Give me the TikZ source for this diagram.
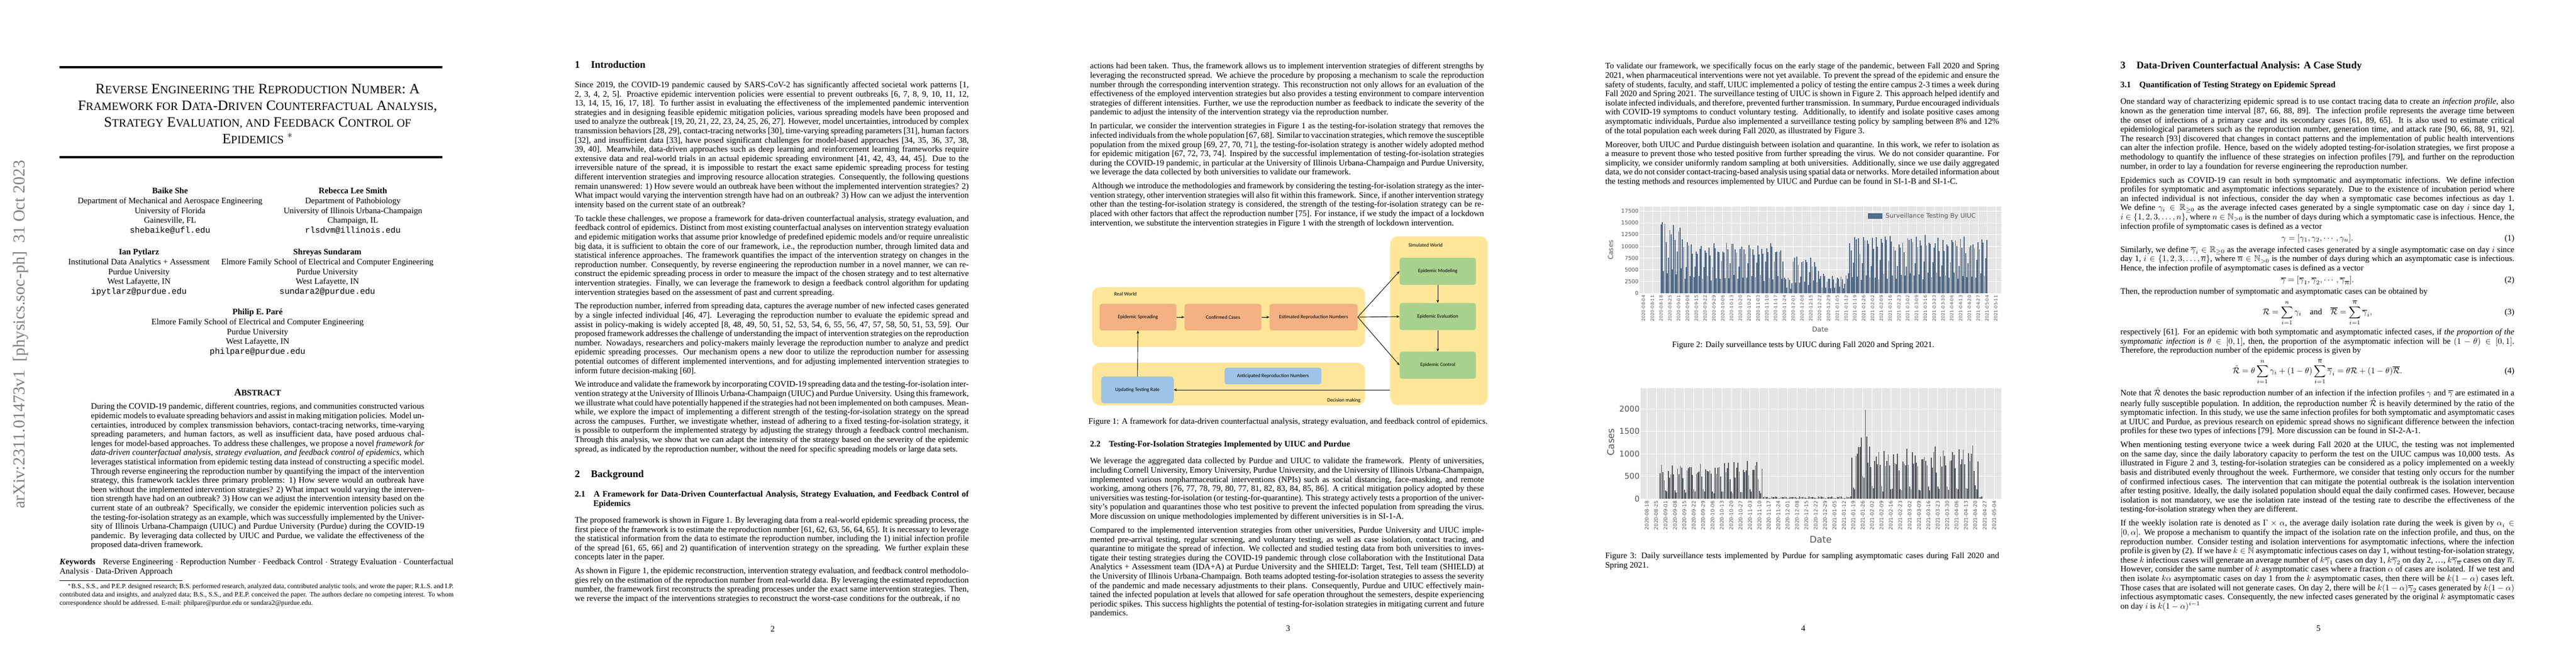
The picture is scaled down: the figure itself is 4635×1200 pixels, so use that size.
\documentclass[tikz,border=0pt]{standalone}
\usepackage{amsmath,amssymb}
\usepackage{fontspec}
\setmainfont{Liberation Serif}
\setmonofont{Liberation Mono}
\newfontfamily\plotfont{DejaVu Sans}
\newfontfamily\figfont{Carlito}
\usetikzlibrary{arrows.meta}
\newdimen\px \px=0.66pt
\newcommand{\sm}[1]{{\fontsize{13.5}{20}\selectfont\MakeUppercase{#1}}}
\newcommand{\smb}[1]{{\fontsize{10}{12}\selectfont\MakeUppercase{#1}}}
\newcommand{\pp}{\par\vspace{5.5pt}}
\newcommand{\secn}[2]{{\fontsize{12}{14}\selectfont\bfseries #1\hspace{1.1em}#2}\par\vspace{12pt}}
\newcommand{\subsecn}[2]{{\bfseries\hangindent=2.2em\hangafter=1 #1\hspace{1em}#2\par}\vspace{9pt}}
\definecolor{worldyellow}{HTML}{FFE699}
\definecolor{stageorange}{HTML}{F4B183}
\definecolor{simgreen}{HTML}{A9D18E}
\definecolor{decblue}{HTML}{9DC3E6}
\definecolor{uiucbar}{HTML}{4F6B8D}
\definecolor{purduebar}{HTML}{55595E}
\definecolor{plotbg}{HTML}{E5E5E5}
\definecolor{ticktext}{HTML}{555555}
\tikzset{
  /tikz/.cd,
  body/.style={anchor=north west,inner sep=0pt,text width=6.5in,align=justify,font=\fontsize{10}{11}\selectfont},
  pagenum/.style={font=\fontsize{10}{11}\selectfont},
  author/.style={anchor=north,align=center,inner sep=0pt,font=\fontsize{10}{11.7}\selectfont},
  world/.style={fill=worldyellow,rounded corners=9pt,inner sep=0pt},
  stage/.style={fill=stageorange,rounded corners=3pt,font=\figfont\fontsize{6}{7}\selectfont,minimum height=48\px,inner sep=1pt},
  simbox/.style={stage,fill=simgreen,minimum width=138\px,minimum height=49\px},
  decbox/.style={stage,fill=decblue},
  worldlabel/.style={font=\figfont\fontsize{6}{7}\selectfont},
  flow/.style={-{Stealth[length=3.5pt,width=3pt]},line width=0.6pt},
  ticklab/.style={font=\plotfont\fontsize{6.5}{7}\selectfont,text=ticktext,inner sep=1pt},
  datelab/.style={font=\plotfont\fontsize{5.3}{6}\selectfont,text=ticktext,rotate=90,anchor=east,inner sep=1pt},
  axlab/.style={font=\plotfont\fontsize{8}{9}\selectfont,text=ticktext}
}
\begin{document}
\begin{tikzpicture}[x=0.0091667in,y=-0.0091667in]
\useasboundingbox[fill=white] (0,0) rectangle (4635,1200);
%% page 1
\node[rotate=90,anchor=east,text=gray,font=\fontsize{20}{22}\selectfont] (stamp) at (37,283) {arXiv:2311.01473v1\ \ [physics.soc-ph]\ \ 31 Oct 2023};
\draw[line width=2.2pt] (107,121) -- (796,121);
\node[align=center,font=\fontsize{17}{19.8}\selectfont] (title) at (463.5,205) {R\sm{everse} E\sm{ngineering the} R\sm{eproduction} N\sm{umber}: A\\
F\sm{ramework for} D\sm{ata}-D\sm{riven} C\sm{ounterfactual} A\sm{nalysis},\\
S\sm{trategy} E\sm{valuation, and} F\sm{eedback} C\sm{ontrol of}\\
E\sm{pidemics} $^{*}$};
\draw[line width=2.2pt] (107,283) -- (796,283);
\node[author] (she) at (306,338) {\textbf{Baike She}\\Department of Mechanical and Aerospace Engineering\\University of Florida\\Gainesville, FL\\\texttt{shebaike@ufl.edu}};
\node[author] (smith) at (635,338) {\textbf{Rebecca Lee Smith}\\Department of Pathobiology\\University of Illinois Urbana-Champaign\\Champaign, IL\\\texttt{rlsdvm@illinois.edu}};
\node[author] (pytlarz) at (250,448) {\textbf{Ian Pytlarz}\\Institutional Data Analytics + Assessment\\Purdue University\\West Lafayette, IN\\\texttt{ipytlarz@purdue.edu}};
\node[author] (sundaram) at (589,448) {\textbf{Shreyas Sundaram}\\Elmore Family School of Electrical and Computer Engineering\\Purdue University\\West Lafayette, IN\\\texttt{sundara2@purdue.edu}};
\node[author] (pare) at (463.5,556) {\textbf{Philip E. Paré}\\Elmore Family School of Electrical and Computer Engineering\\Purdue University\\West Lafayette, IN\\\texttt{philpare@purdue.edu}};
\node[font=\fontsize{12}{14}\selectfont\bfseries] (abshead) at (463.5,707) {A\smb{bstract}};
\node[body,anchor=north,text width=5.5in] (abstract) at (463.5,726) {During the COVID-19 pandemic, different countries, regions, and communities constructed various epidemic models to evaluate spreading behaviors and assist in making mitigation policies. Model uncertainties, introduced by complex transmission behaviors, contact-tracing networks, time-varying spreading parameters, and human factors, as well as insufficient data, have posed arduous challenges for model-based approaches. To address these challenges, we propose a novel \textit{framework for data-driven counterfactual analysis, strategy evaluation, and feedback control of epidemics}, which leverages statistical information from epidemic testing data instead of constructing a specific model. Through reverse engineering the reproduction number by quantifying the impact of the intervention strategy, this framework tackles three primary problems: 1) How severe would an outbreak have been without the implemented intervention strategies? 2) What impact would varying the intervention strength have had on an outbreak? 3) How can we adjust the intervention intensity based on the current state of an outbreak? Specifically, we consider the epidemic intervention policies such as the testing-for-isolation strategy as an example, which was successfully implemented by the University of Illinois Urbana-Champaign (UIUC) and Purdue University (Purdue) during the COVID-19 pandemic. By leveraging data collected by UIUC and Purdue, we validate the effectiveness of the proposed data-driven framework.};
\node[body] (keywords) at (107,1006) {\textbf{\textit{K}eywords}\hspace{0.6em} Reverse Engineering $\cdot$ Reproduction Number $\cdot$ Feedback Control $\cdot$ Strategy Evaluation $\cdot$ Counterfactual Analysis $\cdot$ Data-Driven Approach};
\draw[line width=0.4pt] (107,1045) -- (328,1045);
\node[body,font=\fontsize{8}{9.9}\selectfont] (footnote) at (107,1051) {\hspace*{1.2em}$^{*}$B.S., S.S., and P.E.P. designed research; B.S. performed research, analyzed data, contributed analytic tools, and wrote the paper; R.L.S. and I.P. contributed data and insights, and analyzed data; B.S., S.S., and P.E.P. conceived the paper. The authors declare no competing interest. To whom correspondence should be addressed. E-mail: philpare@purdue.edu or sundara2@purdue.edu.};
%% page 2
\node[body] (p2text) at (1034,110) {\secn{1}{Introduction}
Since 2019, the COVID-19 pandemic caused by SARS-CoV-2 has significantly affected societal work patterns [1, 2, 3, 4, 2, 5]. Proactive epidemic intervention policies were essential to prevent outbreaks [6, 7, 8, 9, 10, 11, 12, 13, 14, 15, 16, 17, 18]. To further assist in evaluating the effectiveness of the implemented pandemic intervention strategies and in designing feasible epidemic mitigation policies, various spreading models have been proposed and used to analyze the outbreak [19, 20, 21, 22, 23, 24, 25, 26, 27]. However, model uncertainties, introduced by complex transmission behaviors [28, 29], contact-tracing networks [30], time-varying spreading parameters [31], human factors [32], and insufficient data [33], have posed significant challenges for model-based approaches [34, 35, 36, 37, 38, 39, 40]. Meanwhile, data-driven approaches such as deep learning and reinforcement learning frameworks require extensive data and real-world trials in an actual epidemic spreading environment [41, 42, 43, 44, 45]. Due to the irreversible nature of the spread, it is impossible to restart the exact same epidemic spreading process for testing different intervention strategies and improving resource allocation strategies. Consequently, the following questions remain unanswered: 1) How severe would an outbreak have been without the implemented intervention strategies? 2) What impact would varying the intervention strength have had on an outbreak? 3) How can we adjust the intervention intensity based on the current state of an outbreak?\pp
To tackle these challenges, we propose a framework for data-driven counterfactual analysis, strategy evaluation, and feedback control of epidemics. Distinct from most existing counterfactual analyses on intervention strategy evaluation and epidemic mitigation works that assume prior knowledge of predefined epidemic models and/or require unrealistic big data, it is sufficient to obtain the core of our framework, i.e., the reproduction number, through limited data and statistical inference approaches. The framework quantifies the impact of the intervention strategy on changes in the reproduction number. Consequently, by reverse engineering the reproduction number in a novel manner, we can reconstruct the epidemic spreading process in order to measure the impact of the chosen strategy and to test alternative intervention strategies. Finally, we can leverage the framework to design a feedback control algorithm for updating intervention strategies based on the assessment of past and current spreading.\pp
The reproduction number, inferred from spreading data, captures the average number of new infected cases generated by a single infected individual [46, 47]. Leveraging the reproduction number to evaluate the epidemic spread and assist in policy-making is widely accepted [8, 48, 49, 50, 51, 52, 53, 54, 6, 55, 56, 47, 57, 58, 50, 51, 53, 59]. Our proposed framework addresses the challenge of understanding the impact of intervention strategies on the reproduction number. Nowadays, researchers and policy-makers mainly leverage the reproduction number to analyze and predict epidemic spreading processes. Our mechanism opens a new door to utilize the reproduction number for assessing potential outcomes of different implemented interventions, and for adjusting implemented intervention strategies to inform future decision-making [60].\pp
We introduce and validate the framework by incorporating COVID-19 spreading data and the testing-for-isolation intervention strategy at the University of Illinois Urbana-Champaign (UIUC) and Purdue University. Using this framework, we illustrate what could have potentially happened if the strategies had not been implemented on both campuses. Meanwhile, we explore the impact of implementing a different strength of the testing-for-isolation strategy on the spread across the campuses. Further, we investigate whether, instead of adhering to a fixed testing-for-isolation strategy, it is possible to outperform the implemented strategy by adjusting the strategy through a feedback control mechanism. Through this analysis, we show that we can adapt the intensity of the strategy based on the severity of the epidemic spread, as indicated by the reproduction number, without the need for specific spreading models or large data sets.\par\vspace{20pt}
\secn{2}{Background}
\subsecn{2.1}{A Framework for Data-Driven Counterfactual Analysis, Strategy Evaluation, and Feedback Control of Epidemics}
The proposed framework is shown in Figure 1. By leveraging data from a real-world epidemic spreading process, the first piece of the framework is to estimate the reproduction number [61, 62, 63, 56, 64, 65]. It is necessary to leverage the statistical information from the data to estimate the reproduction number, including the 1) initial infection profile of the spread [61, 65, 66] and 2) quantification of intervention strategy on the spreading. We further explain these concepts later in the paper.\pp
As shown in Figure 1, the epidemic reconstruction, intervention strategy evaluation, and feedback control methodologies rely on the estimation of the reproduction number from real-world data. By leveraging the estimated reproduction number, the framework first reconstructs the spreading processes under the exact same intervention strategies. Then, we reverse the impact of the interventions strategies to reconstruct the worst-case conditions for the outbreak, if no};
\node[pagenum] (num2) at (1390.5,1132) {2};
%% page 3
\node[body] (p3text) at (1961,113) {actions had been taken. Thus, the framework allows us to implement intervention strategies of different strengths by leveraging the reconstructed spread. We achieve the procedure by proposing a mechanism to scale the reproduction number through the corresponding intervention strategy. This reconstruction not only allows for an evaluation of the effectiveness of the employed intervention strategies but also provides a testing environment to compare intervention strategies of different intensities. Further, we use the reproduction number as feedback to indicate the severity of the pandemic to adjust the intensity of the intervention strategy via the reproduction number.\pp
In particular, we consider the intervention strategies in Figure 1 as the testing-for-isolation strategy that removes the infected individuals from the whole population [67, 68]. Similar to vaccination strategies, which remove the susceptible population from the mixed group [69, 27, 70, 71], the testing-for-isolation strategy is another widely adopted method for epidemic mitigation [67, 72, 73, 74]. Inspired by the successful implementation of testing-for-isolation strategies during the COVID-19 pandemic, in particular at the University of Illinois Urbana-Champaign and Purdue University, we leverage the data collected by both universities to validate our framework.\pp
\ Although we introduce the methodologies and framework by considering the testing-for-isolation strategy as the intervention strategy, other intervention strategies will also fit within this framework. Since, if another intervention strategy other than the testing-for-isolation strategy is considered, the strength of the testing-for-isolation strategy can be replaced with other factors that affect the reproduction number [75]. For instance, if we study the impact of a lockdown intervention, we substitute the intervention strategies in Figure 1 with the strength of lockdown intervention.};
% figure 1
\node[world,minimum width=493\px,minimum height=108\px] (realworld) at (2210.5,571) {};
\node[world,minimum width=493\px,minimum height=77\px] (decision) at (2210.5,691.5) {};
\node[world,minimum width=176\px,minimum height=305\px] (simworld) at (2589,577.5) {};
\node[worldlabel] (rwlabel) at (2025,529) {Real World};
\node[worldlabel] (swlabel) at (2565,441) {Simulated World};
\node[worldlabel] (dmlabel) at (2418,721) {Decision making};
\node[stage,minimum width=139\px] (spreading) at (2047.5,571) {Epidemic Spreading};
\node[stage,minimum width=139\px] (confirmed) at (2200.5,571) {Confirmed Cases};
\node[stage,minimum width=159\px] (estimated) at (2363.5,571) {Estimated Reproduction Numbers};
\node[simbox] (modeling) at (2587,488.5) {Epidemic Modeling};
\node[simbox] (evaluation) at (2587,570) {Epidemic Evaluation};
\node[simbox] (control) at (2587,657.5) {Epidemic Control};
\node[decbox,minimum width=175\px,minimum height=30\px] (anticipated) at (2290.5,677) {Anticipated Reproduction Numbers};
\node[decbox,minimum width=131\px] (updating) at (2046.5,702) {Updating Testing Rate};
\draw[flow] (spreading) -- (confirmed);
\draw[flow] (confirmed) -- (estimated);
\draw[flow] (estimated.east) -- (modeling.west);
\draw[flow] (estimated.east) -- (evaluation.west);
\draw[flow] (estimated.east) -- (control.west);
\draw[flow] (modeling) -- (evaluation);
\draw[flow] (evaluation) -- (control);
\draw[flow] (simworld.west |- updating) -- (updating.east);
\draw[flow] (updating) -- (spreading);
\node[font=\fontsize{10}{11}\selectfont] (cap1) at (2317.5,760) {Figure 1: A framework for data-driven counterfactual analysis, strategy evaluation, and feedback control of epidemics.};
\node[body] (p3rest) at (1961,794) {\subsecn{2.2}{Testing-For-Isolation Strategies Implemented by UIUC and Purdue}
We leverage the aggregated data collected by Purdue and UIUC to validate the framework. Plenty of universities, including Cornell University, Emory University, Purdue University, and the University of Illinois Urbana-Champaign, implemented various nonpharmaceutical interventions (NPIs) such as social distancing, face-masking, and remote working, among others [76, 77, 78, 79, 80, 77, 81, 82, 83, 84, 85, 86]. A critical mitigation policy adopted by these universities was testing-for-isolation (or testing-for-quarantine). This strategy actively tests a proportion of the university's population and quarantines those who test positive to prevent the infected population from spreading the virus. More discussion on unique methodologies implemented by different universities is in SI-1-A.\pp
Compared to the implemented intervention strategies from other universities, Purdue University and UIUC implemented pre-arrival testing, regular screening, and voluntary testing, as well as case isolation, contact tracing, and quarantine to mitigate the spread of infection. We collected and studied testing data from both universities to investigate their testing strategies during the COVID-19 pandemic through close collaboration with the Institutional Data Analytics + Assessment team (IDA+A) at Purdue University and the SHIELD: Target, Test, Tell team (SHIELD) at the University of Illinois Urbana-Champaign. Both teams adopted testing-for-isolation strategies to assess the severity of the pandemic and made necessary adjustments to their plans. Consequently, Purdue and UIUC effectively maintained the infected population at levels that allowed for safe operation throughout the semesters, despite experiencing periodic spikes. This success highlights the potential of testing-for-isolation strategies in mitigating current and future pandemics.};
\node[pagenum] (num3) at (2317.5,1132) {3};
%% page 4
\node[body] (p4text) at (2888,113) {To validate our framework, we specifically focus on the early stage of the pandemic, between Fall 2020 and Spring 2021, when pharmaceutical interventions were not yet available. To prevent the spread of the epidemic and ensure the safety of students, faculty, and staff, UIUC implemented a policy of testing the entire campus 2-3 times a week during Fall 2020 and Spring 2021. The surveillance testing of UIUC is shown in Figure 2. This approach helped identify and isolate infected individuals, and therefore, prevented further transmission. In summary, Purdue encouraged individuals with COVID-19 symptoms to conduct voluntary testing. Additionally, to identify and isolate positive cases among asymptomatic individuals, Purdue also implemented a surveillance testing policy by sampling between 8\% and 12\% of the total population each week during Fall 2020, as illustrated by Figure 3.\pp
Moreover, both UIUC and Purdue distinguish between isolation and quarantine. In this work, we refer to isolation as a measure to prevent those who tested positive from further spreading the virus. We do not consider quarantine. For simplicity, we consider uniformly random sampling at both universities. Additionally, since we use daily aggregated data, we do not consider contact-tracing-based analysis using spatial data or networks. More detailed information about the testing methods and resources implemented by UIUC and Purdue can be found in SI-1-B and SI-1-C.};
% figure 2: UIUC
\fill[plotbg] (2950,372) rectangle (3601,528);
\foreach \k/\v in {0/0,1/2500,2/5000,3/7500,4/10000,5/12500,6/15000,7/17500}{
  \draw[white,line width=0.5pt] (2950,528-21.14*\k) -- (3601,528-21.14*\k);
  \node[ticklab,anchor=east] at (2950,528-21.14*\k) {\v};
}
\foreach \lab [count=\i from 0] in {2020-08-04,2020-08-11,2020-08-18,2020-08-25,2020-09-01,2020-09-08,2020-09-15,2020-09-22,2020-09-29,2020-10-06,2020-10-13,2020-10-20,2020-10-27,2020-11-03,2020-11-10,2020-11-17,2020-11-24,2020-12-01,2020-12-08,2020-12-15,2020-12-22,2020-12-29,2021-01-05,2021-01-12,2021-01-19,2021-01-26,2021-02-02,2021-02-09,2021-02-16,2021-02-23,2021-03-02,2021-03-09,2021-03-16,2021-03-23,2021-03-30,2021-04-06,2021-04-13,2021-04-20,2021-04-27,2021-05-04,2021-05-11}{
  \draw[white,line width=0.5pt] (2957+15.85*\i,372) -- (2957+15.85*\i,528);
  \node[datelab] at (2957+15.85*\i,530) {\lab};
}
\pgfmathsetseed{11}
\foreach \d in {14,...,273}{
  \pgfmathsetmacro\env{\d<31 ? 14 : (\d<112 ? 10.2 : (\d<119 ? 3.5 : (\d<140 ? 7 : (\d<163 ? 3.6 : 11))))}
  \pgfmathsetmacro\wk{{1,0.95,0.35,1,0.9,0.3,0.6}[mod(\d,7)]}
  \pgfmathsetmacro\h{\env*\wk*(0.85+0.3*rnd)}
  \fill[uiucbar] (2956.1+2.264*\d,528) rectangle ++(1.8,-8.457*\h);
}
\fill[uiucbar] (3361,384) rectangle (3387,394);
\node[ticklab,anchor=west,font=\plotfont\fontsize{7.5}{8}\selectfont] (legend1) at (3391,389) {Surveillance Testing By UIUC};
\node[axlab,rotate=90] (cases1) at (2898,450) {Cases};
\node[axlab] (date1) at (3275,593) {Date};
\node[font=\fontsize{10}{11}\selectfont] (cap2) at (3244.5,622) {Figure 2: Daily surveillance tests by UIUC during Fall 2020 and Spring 2021.};
% figure 3: Purdue
\fill[plotbg] (2952,699) rectangle (3601,898);
\foreach \v in {0,500,...,2000}{
  \draw[white,line width=0.5pt] (2952,898-0.081*\v) -- (3601,898-0.081*\v);
  \node[ticklab,anchor=east,font=\plotfont\fontsize{9.5}{10}\selectfont] at (2952,898-0.081*\v) {\v};
}
\foreach \lab [count=\i from 0] in {2020-08-18,2020-08-25,2020-09-01,2020-09-08,2020-09-15,2020-09-22,2020-09-29,2020-10-06,2020-10-13,2020-10-20,2020-10-27,2020-11-03,2020-11-10,2020-11-17,2020-11-24,2020-12-01,2020-12-08,2020-12-15,2020-12-22,2020-12-29,2021-01-05,2021-01-12,2021-01-19,2021-01-26,2021-02-02,2021-02-09,2021-02-16,2021-02-23,2021-03-02,2021-03-09,2021-03-16,2021-03-23,2021-03-30,2021-04-06,2021-04-13,2021-04-20,2021-04-27,2021-05-04}{
  \draw[white,line width=0.5pt] (2963+16.89*\i,699) -- (2963+16.89*\i,898);
  \node[datelab,font=\plotfont\fontsize{6}{7}\selectfont] at (2963+16.89*\i,900) {\lab};
}
\pgfmathsetseed{5}
\foreach \d in {10,...,250}{
  \pgfmathsetmacro\env{\d<87 ? 720 : (\d<153 ? 45 : (\d<160 ? 1200 : (\d<165 ? 2000 : (\d<248 ? 1000 : 40))))}
  \pgfmathsetmacro\wk{{0.25,0.2,0.95,0.8,0.9,1,0.7}[mod(\d,7)]}
  \pgfmathsetmacro\h{\env*\wk*(0.8+0.4*rnd)}
  \fill[purduebar] (2962.2+2.413*\d,898) rectangle ++(1.7,-0.081*\h);
}
\node[axlab,rotate=90,font=\plotfont\fontsize{11}{12}\selectfont] (cases2) at (2898,796) {Cases};
\node[axlab,font=\plotfont\fontsize{11}{12}\selectfont] (date2) at (3276,972) {Date};
\node[body] (cap3) at (2888,995) {Figure 3: Daily surveillance tests implemented by Purdue for sampling asymptomatic cases during Fall 2020 and Spring 2021.};
\node[pagenum] (num4) at (3244.5,1132) {4};
%% page 5
\node[body] (p5text) at (3815,110) {\abovedisplayskip=3pt\belowdisplayskip=3pt\abovedisplayshortskip=2pt\belowdisplayshortskip=2pt
\secn{3}{Data-Driven Counterfactual Analysis: A Case Study}
\subsecn{3.1}{Quantification of Testing Strategy on Epidemic Spread}
One standard way of characterizing epidemic spread is to use contact tracing data to create an \textit{infection profile}, also known as the generation time interval [87, 66, 88, 89]. The infection profile represents the average time between the onset of infections of a primary case and its secondary cases [61, 89, 65]. It is also used to estimate critical epidemiological parameters such as the reproduction number, generation time, and attack rate [90, 66, 88, 91, 92]. The research [93] discovered that changes in contact patterns and the implementation of public health interventions can alter the infection profile. Hence, based on the widely adopted testing-for-isolation strategies, we first propose a methodology to quantify the influence of these strategies on infection profiles [79], and further on the reproduction number, in order to lay a foundation for reverse engineering the reproduction number.\pp
Epidemics such as COVID-19 can result in both symptomatic and asymptomatic infections. We define infection profiles for symptomatic and asymptomatic infections separately. Due to the existence of incubation period where an infected individual is not infectious, consider the day when a symptomatic case becomes infectious as day 1. We define $\gamma_i\in\mathbb{R}_{\geq0}$ as the average infected cases generated by a single symptomatic case on day $i$ since day 1, $i\in\{1,2,3,\ldots,n\}$, where $n\in\mathbb{N}_{>0}$ is the number of days during which a symptomatic case is infectious. Hence, the infection profile of symptomatic cases is defined as a vector
\[\gamma=[\gamma_1,\gamma_2,\cdots,\gamma_n]. \tag{1}\]
Similarly, we define $\overline{\gamma}_i\in\mathbb{R}_{\geq0}$ as the average infected cases generated by a single asymptomatic case on day $i$ since day 1, $i\in\{1,2,3,\ldots,\overline{n}\}$, where $\overline{n}\in\mathbb{N}_{>0}$ is the number of days during which an asymptomatic case is infectious. Hence, the infection profile of asymptomatic cases is defined as a vector
\[\overline{\gamma}=[\overline{\gamma}_1,\overline{\gamma}_2,\cdots,\overline{\gamma}_{\overline{n}}]. \tag{2}\]
Then, the reproduction number of symptomatic and asymptomatic cases can be obtained by
\[\mathcal{R}=\sum_{i=1}^{n}\gamma_i\quad\text{and}\quad\overline{\mathcal{R}}=\sum_{i=1}^{\overline{n}}\overline{\gamma}_i, \tag{3}\]
respectively [61]. For an epidemic with both symptomatic and asymptomatic infected cases, if \textit{the proportion of the symptomatic infection} is $\theta\in[0,1]$, then, the proportion of the asymptomatic infection will be $(1-\theta)\in[0,1]$. Therefore, the reproduction number of the epidemic process is given by
\[\hat{\mathcal{R}}=\theta\sum_{i=1}^{n}\gamma_i+(1-\theta)\sum_{i=1}^{\overline{n}}\overline{\gamma}_i=\theta\mathcal{R}+(1-\theta)\overline{\mathcal{R}}. \tag{4}\]
Note that $\hat{\mathcal{R}}$ denotes the basic reproduction number of an infection if the infection profiles $\gamma$ and $\overline{\gamma}$ are estimated in a nearly fully susceptible population. In addition, the reproduction number $\hat{\mathcal{R}}$ is heavily determined by the ratio of the symptomatic infection. In this study, we use the same infection profiles for both symptomatic and asymptomatic cases at UIUC and Purdue, as previous research on epidemic spread shows no significant difference between the infection profiles for these two types of infections [79]. More discussion can be found in SI-2-A-1.\pp
When mentioning testing everyone twice a week during Fall 2020 at the UIUC, the testing was not implemented on the same day, since the daily laboratory capacity to perform the test on the UIUC campus was 10,000 tests. As illustrated in Figure 2 and 3, testing-for-isolation strategies can be considered as a policy implemented on a weekly basis and distributed evenly throughout the week. Furthermore, we consider that testing only occurs for the number of confirmed infectious cases. The intervention that can mitigate the potential outbreak is the isolation intervention after testing positive. Ideally, the daily isolated population should equal the daily confirmed cases. However, because isolation is not mandatory, we use the isolation rate instead of the testing rate to describe the effectiveness of the testing-for-isolation strategy when they are different.\pp
If the weekly isolation rate is denoted as $\Gamma\times\alpha$, the average daily isolation rate during the week is given by $\alpha_i\in[0,\alpha]$. We propose a mechanism to quantify the impact of the isolation rate on the infection profile, and thus, on the reproduction number. Consider testing and isolation interventions for asymptomatic infections, where the infection profile is given by (2). If we have $k\in\mathbb{N}$ asymptomatic infectious cases on day 1, without testing-for-isolation strategy, these $k$ infectious cases will generate an average number of $k\overline{\gamma}_1$ cases on day 1, $k\overline{\gamma}_2$ on day 2, \ldots, $k\overline{\gamma}_{\overline{n}}$ cases on day $\overline{n}$. However, consider the same number of $k$ asymptomatic cases where a fraction $\alpha$ of cases are isolated. If we test and then isolate $k\alpha$ asymptomatic cases on day 1 from the $k$ asymptomatic cases, then there will be $k(1-\alpha)$ cases left. Those cases that are isolated will not generate cases. On day 2, there will be $k(1-\alpha)\overline{\gamma}_2$ cases generated by $k(1-\alpha)$ infectious asymptomatic cases. Consequently, the new infected cases generated by the original $k$ asymptomatic cases on day $i$ is $k(1-\alpha)^{i-1}$};
\node[pagenum] (num5) at (4171.5,1132) {5};
\end{tikzpicture}
\end{document}
